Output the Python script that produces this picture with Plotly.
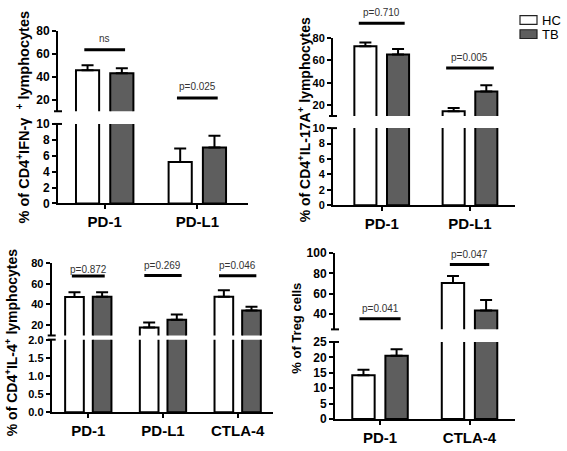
import plotly.graph_objects as go

W, H = 567, 451

# ---------------- data ----------------
groups = ["HC", "TB"]
cats_ifng = ["PD-1", "PD-L1"]
hc_ifng = [45.5, 5.2]
hc_ifng_err = [4.5, 1.7]
tb_ifng = [43.0, 7.05]
tb_ifng_err = [4.2, 1.45]
p_ifng = ["ns", "p=0.025"]

cats_il17 = ["PD-1", "PD-L1"]
hc_il17 = [72.8, 14.2]
hc_il17_err = [3.4, 3.0]
tb_il17 = [65.4, 32.0]
tb_il17_err = [5.0, 5.7]
p_il17 = ["p=0.710", "p=0.005"]

cats_il4 = ["PD-1", "PD-L1", "CTLA-4"]
hc_il4 = [47.2, 17.8, 47.5]
hc_il4_err = [4.6, 4.7, 6.3]
tb_il4 = [47.5, 25.3, 34.1]
tb_il4_err = [4.4, 5.0, 3.7]
p_il4 = ["p=0.872", "p=0.269", "p=0.046"]

cats_treg = ["PD-1", "CTLA-4"]
hc_treg = [14.2, 70.5]
hc_treg_err = [1.8, 6.9]
tb_treg = [20.5, 43.5]
tb_treg_err = [2.1, 10.5]
p_treg = ["p=0.041", "p=0.047"]

titles = [
    "<b>% of CD4<sup>+</sup>IFN-γ  <sup>+</sup> lymphocytes</b>",
    "<b>% of CD4<sup>+</sup>IL-17A<sup>+</sup> lymphocytes</b>",
    "<b>% of CD4<sup>+</sup>IL-4<sup>+</sup> lymphocytes</b>",
    "<b>% of Treg cells</b>",
]

# ---------------- layout (pixels) ----------------
def fx(p):
    return p / W

def fy(p):
    return 1 - p / H

FONT = "Arial, Liberation Sans, sans-serif"
HC_FILL = "#ffffff"
TB_FILL = "#5e5e5e"

panels = [
    dict(cats=cats_ifng, hc=hc_ifng, hce=hc_ifng_err, tb=tb_ifng, tbe=tb_ifng_err, p=p_ifng,
         x0=58, x1=248, xr=[-0.504, 1.547],
         lo=(120.7, 202.7), lr=[0, 10], ltv=[0, 2, 4, 6, 8, 10], lfmt="",
         up=(24.3, 107.6), ur=[10, 80], utv=[20, 40, 60, 80],
         tick=12,
         ptext=[(33, 44), (82, 94)], pw=[0.22, 0.22],
         title=(23, 114), tsize=14.5),
    dict(cats=cats_il17, hc=hc_il17, hce=hc_il17_err, tb=tb_il17, tbe=tb_il17_err, p=p_il17,
         x0=333, x1=515, xr=[-0.552, 1.51],
         lo=(125, 204.7), lr=[0, 10], ltv=[0, 2, 4, 6, 8, 10], lfmt="",
         up=(32.3, 112.5), ur=[10, 80], utv=[20, 40, 60, 80],
         tick=11,
         ptext=[(6, 16.7), (52, 63)], pw=[0.26, 0.27],
         title=(304, 117), tsize=14),
    dict(cats=cats_il4, hc=hc_il4, hce=hc_il4_err, tb=tb_il4, tbe=tb_il4_err, p=p_il4,
         x0=51.7, x1=273, xr=[-0.49, 2.473],
         lo=(343.3, 418.3), lr=[0, 2], ltv=[0, 0.5, 1, 1.5, 2], lfmt=".1f",
         up=(264.3, 339), ur=[10, 80], utv=[20, 40, 60, 80],
         tick=11,
         ptext=[(270.7, 277.7), (267, 277), (266.7, 277.3)], pw=[0.22, 0.25, 0.25],
         title=(11, 346), tsize=14),
    dict(cats=cats_treg, hc=hc_treg, hce=hc_treg_err, tb=tb_treg, tbe=tb_treg_err, p=p_treg,
         x0=335, x1=515, xr=[-0.503, 1.508],
         lo=(345.7, 425.3), lr=[0, 25], ltv=[0, 5, 10, 15, 20, 25], lfmt="",
         up=(254, 332.7), ur=[25, 100], utv=[40, 60, 80, 100],
         tick=12,
         ptext=[(311, 321.7), (255, 265.7)], pw=[0.23, 0.22],
         title=(297, 332), tsize=13),
]

fig = go.Figure()
shapes = []
annotations = []
layout = dict(
    width=W, height=H, autosize=False,
    margin=dict(l=0, r=0, t=0, b=0),
    paper_bgcolor="white", plot_bgcolor="rgba(0,0,0,0)",
    barmode="overlay", showlegend=False,
    font=dict(family=FONT, color="black"),
)

BAR_W = 0.25
OFFS = {"HC": -0.31, "TB": 0.06}

for i, P in enumerate(panels):
    xn = i + 1
    yl = 2 * i + 1
    yu = 2 * i + 2
    xname = "x" if xn == 1 else f"x{xn}"
    ylname = "y" if yl == 1 else f"y{yl}"
    yuname = f"y{yu}"
    xkey = "xaxis" if xn == 1 else f"xaxis{xn}"
    ylkey = "yaxis" if yl == 1 else f"yaxis{yl}"
    yukey = f"yaxis{yu}"

    common = dict(showline=True, linecolor="black", linewidth=2,
                  ticks="outside", ticklen=4, tickwidth=2, tickcolor="black",
                  showgrid=False, zeroline=False, ticklabeloverflow="allow")
    layout[xkey] = dict(
        domain=[fx(P["x0"]), fx(P["x1"])], anchor=ylname, type="category",
        range=P["xr"],
        tickfont=dict(family=FONT, size=15, color="black", weight="bold"), **common)
    layout[ylkey] = dict(
        domain=[fy(P["lo"][1]), fy(P["lo"][0])], anchor=xname, range=P["lr"],
        tickmode="array", tickvals=P["ltv"], tickformat=P["lfmt"],
        tickfont=dict(family=FONT, size=P["tick"], color="black", weight="bold"), **common)
    layout[yukey] = dict(
        domain=[fy(P["up"][1]), fy(P["up"][0])], anchor=xname, range=P["ur"],
        tickmode="array", tickvals=P["utv"],
        tickfont=dict(family=FONT, size=P["tick"], color="black", weight="bold"), **common)

    for g, vals, errs, fill in [("HC", P["hc"], P["hce"], HC_FILL), ("TB", P["tb"], P["tbe"], TB_FILL)]:
        for yname in (ylname, yuname):
            fig.add_trace(go.Bar(
                x=P["cats"], y=vals, name=g, xaxis=xname, yaxis=yname,
                width=BAR_W, offset=OFFS[g],
                marker=dict(color=fill, line=dict(color="black", width=2)),
                error_y=dict(type="data", symmetric=False, array=errs,
                             arrayminus=[0] * len(errs),
                             color="black", thickness=2, width=6),
                showlegend=False, hoverinfo="x+y+name",
            ))

    # break marks on the y axis
    ax = P["x0"]
    for yb in (P["up"][1], P["lo"][0]):
        shapes.append(dict(type="line", xref="paper", yref="paper",
                           x0=fx(ax - 4), x1=fx(ax + 4), y0=fy(yb), y1=fy(yb),
                           line=dict(color="black", width=2)))

    # significance bars and labels
    for k, (label, (ty, ly), hw) in enumerate(zip(P["p"], P["ptext"], P["pw"])):
        shapes.append(dict(type="line", xref=xname, yref="paper",
                           x0=k - hw, x1=k + hw, y0=fy(ly), y1=fy(ly),
                           line=dict(color="black", width=3)))
        annotations.append(dict(text=label, xref=xname, yref="paper", x=k, y=fy(ty),
                                xanchor="center", yanchor="middle", showarrow=False,
                                font=dict(family=FONT, size=10, color="#333333")))

    # y-axis title (spans both segments)
    tx, tyc = P["title"]
    annotations.append(dict(text=titles[i], xref="paper", yref="paper",
                            x=fx(tx), y=fy(tyc), xanchor="center", yanchor="middle",
                            textangle=-90, showarrow=False,
                            font=dict(family=FONT, size=P["tsize"], color="black")))

# legend (manual)
for g, fill, cy in [("HC", HC_FILL, 13.5), ("TB", TB_FILL, 28)]:
    shapes.append(dict(type="rect", xref="paper", yref="paper",
                       x0=fx(520), x1=fx(537), y0=fy(cy + 4.5), y1=fy(cy - 4.5),
                       fillcolor=fill, line=dict(color="#222222", width=1.2)))
    annotations.append(dict(text=g, xref="paper", yref="paper", x=fx(541), y=fy(cy),
                            xanchor="left", yanchor="middle", showarrow=False,
                            borderpad=0,
                            font=dict(family=FONT, size=13, color="black")))

layout["shapes"] = shapes
layout["annotations"] = annotations
fig.update_layout(**layout)
fig.write_html("out.html", config={"displayModeBar": False},
               post_script="document.body.style.margin='0';document.body.style.overflow='hidden';")
